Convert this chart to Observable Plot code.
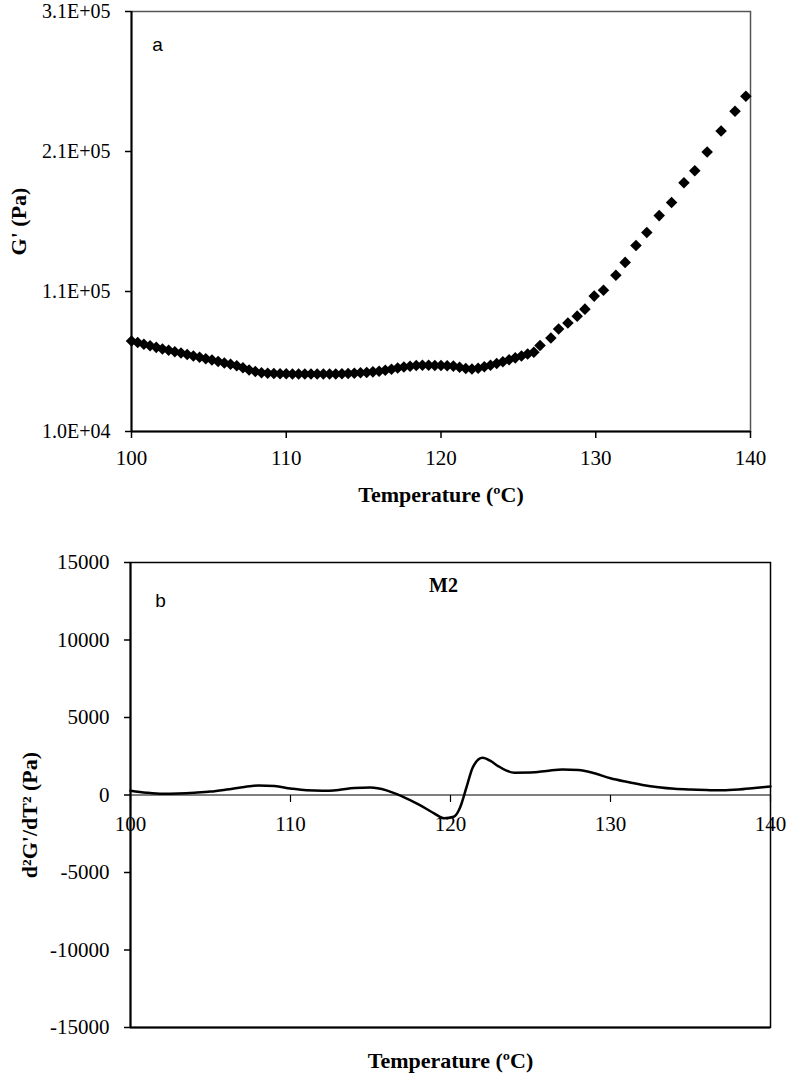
<!DOCTYPE html>
<html>
<head>
<meta charset="utf-8">
<script src="https://cdn.jsdelivr.net/npm/d3@7"></script>
<script src="https://cdn.jsdelivr.net/npm/@observablehq/plot@0.6"></script>
<style>
  html, body { margin: 0; padding: 0; background: #fff; }
  #chart svg { display: block; }
  #chart svg g[aria-label$="tick label"] text { font-family: "Liberation Serif", "Times New Roman", serif !important; }
</style>
</head>
<body>
<div id="chart"></div>
<script>
// ---------- Panel a : G' vs temperature ----------
const tempA = [
  100.0,100.4,100.8,101.2,101.6,102.0,102.4,102.8,103.2,103.6,
  104.0,104.4,104.8,105.2,105.6,106.0,106.4,106.8,107.2,107.6,
  108.0,108.4,108.8,109.2,109.6,110.0,110.4,110.8,111.2,111.6,
  112.0,112.4,112.8,113.2,113.6,114.0,114.4,114.8,115.2,115.6,
  116.0,116.4,116.8,117.2,117.6,118.0,118.4,118.8,119.2,119.6,
  120.0,120.4,120.8,121.2,121.6,122.0,122.4,122.8,123.2,123.6,
  124.0,124.4,124.8,125.2,125.6,126.0,
  126.4,127.1,127.6,128.2,128.8,129.3,129.9,130.5,131.3,131.9,
  132.6,133.3,134.1,134.9,135.7,136.4,137.2,138.1,139.0,139.7
];
const gPrime = [
  74700,73500,72300,71200,70100,69000,68000,67000,66000,65000,
  64000,63000,62000,61000,60000,59000,58000,56900,55500,54000,
  52800,52000,51600,51400,51200,51200,51100,51100,51000,51000,
  51000,51000,51100,51100,51200,51400,51600,51900,52200,52600,
  53100,53800,54500,55300,56000,56600,57100,57300,57300,57200,
  57100,57000,56700,55900,55000,54700,55200,56200,57300,58500,
  59800,61200,62600,64000,65400,66600,
  71500,76800,83200,87500,92400,97400,106700,110900,121600,130800,
  142900,152100,164200,173500,187700,196200,209700,224600,238800,249500
];
const yTicksA = [10000, 110000, 210000, 310000];
const xTicks = [100, 110, 120, 130, 140];

// ---------- Panel b : second derivative ----------
const tempB = [
  100,101,102,103,104,105,106,107,108,109,
  110,111,112,113,114,115,116,117,118,119,
  119.6,120.2,120.6,121,121.4,122,122.5,123,123.5,124,125,
  126,127,128,129,130,131,132,133,134,135,
  136,137,138,139,140
];
const d2G = [
  280,150,80,100,150,220,350,500,620,580,
  420,300,270,330,450,480,300,-100,-600,-1200,
  -1500,-1400,-800,500,1800,2400,2200,1850,1570,1440,1450,
  1550,1650,1620,1400,1080,850,650,500,400,350,
  320,300,350,450,550
];
const yTicksB = [-15000, -10000, -5000, 0, 5000, 10000, 15000];

const dataA = tempA.map((t, i) => ({t, g: gPrime[i]}));
const dataB = tempB.map((t, i) => ({t, v: d2G[i]}));

const fmtE = d => {
  const [m, e] = d.toExponential(1).split("e");
  const sign = e[0] === "-" ? "-" : "+";
  return m + "E" + sign + String(Math.abs(+e)).padStart(2, "0");
};

const serif = "Liberation Serif";
const sans = "Liberation Sans";

const tickDown = { draw(ctx, size) { ctx.moveTo(0, 0); ctx.lineTo(0, 7); } };

const lbl = {lineAnchor: "middle", textAnchor: "middle", fontFamily: serif};

const plotA = Plot.plot({
  width: 787, height: 520,
  marginLeft: 131, marginRight: 37, marginTop: 11, marginBottom: 89,
  style: {fontSize: "20px", color: "#000", background: "#fff"},
  x: {domain: [100, 140]},
  y: {domain: [10000, 310000]},
  marks: [
    Plot.frame({stroke: "#555", strokeWidth: 1.5}),
    Plot.axisX({ticks: xTicks, tickSize: 7, tickPadding: 12, label: null, fontSize: 21, fontFamily: serif, strokeWidth: 1.5}),
    Plot.axisY({ticks: yTicksA, tickFormat: fmtE, tickSize: 6, tickPadding: 15, label: null, fontSize: 20, fontFamily: serif, strokeWidth: 1.5}),
    Plot.ruleX([100], {stroke: "#000", strokeWidth: 2}),
    Plot.ruleY([10000], {stroke: "#000", strokeWidth: 2}),
    Plot.dot(dataA, {x: "t", y: "g", symbol: "diamond2", r: 5.2, fill: "#000", stroke: "none"}),
    Plot.text(["a"], {...lbl, text: d => d, frameAnchor: "top-left", dx: 26, dy: 33, fontFamily: sans, fontSize: 19}),
    Plot.text(["Temperature (ºC)"], {...lbl, text: d => d, frameAnchor: "bottom", dy: 63, fontWeight: "bold", fontSize: 22}),
    Plot.text(["G' (Pa)"], {...lbl, text: d => d, frameAnchor: "left", dx: -113, rotate: -90, fontWeight: "bold", fontSize: 22})
  ]
});

const plotB = Plot.plot({
  width: 787, height: 553,
  marginLeft: 130, marginRight: 17, marginTop: 42, marginBottom: 46,
  style: {fontSize: "21px", color: "#000", background: "#fff"},
  x: {domain: [100, 140]},
  y: {domain: [-15000, 15000]},
  marks: [
    Plot.frame({stroke: "#000", strokeWidth: 1.5}),
    Plot.axisY({ticks: yTicksB, tickFormat: d => String(d), tickSize: 6, tickPadding: 15, label: null, fontSize: 21, fontFamily: serif, strokeWidth: 1.5}),
    Plot.axisX({ticks: [], label: null}),
    Plot.ruleX([100], {stroke: "#000", strokeWidth: 2}),
    Plot.ruleY([-15000], {stroke: "#000", strokeWidth: 2.2}),
    Plot.ruleY([0], {stroke: "#000", strokeWidth: 1.2}),
    Plot.dot(xTicks, {x: d => d, y: 0, symbol: tickDown, r: 3, stroke: "#000", strokeWidth: 1.2, fill: "none"}),
    Plot.text(xTicks, {...lbl, x: d => d, y: 0, text: d => String(d), dy: 29, fontSize: 21}),
    Plot.line(dataB, {x: "t", y: "v", curve: "monotone-x", stroke: "#000", strokeWidth: 2.5}),
    Plot.text(["b"], {...lbl, text: d => d, frameAnchor: "top-left", dx: 30, dy: 38, fontFamily: sans, fontSize: 19}),
    Plot.text(["M2"], {...lbl, text: d => d, frameAnchor: "top-left", dx: 313, dy: 23, fontWeight: "bold", fontSize: 20}),
    Plot.text(["Temperature (ºC)"], {...lbl, text: d => d, frameAnchor: "bottom", dy: 33, fontWeight: "bold", fontSize: 22}),
    Plot.text(["d²G'/dT² (Pa)"], {...lbl, text: d => d, frameAnchor: "left", dx: -101, dy: 20, rotate: -90, fontWeight: "bold", fontSize: 22})
  ]
});

document.getElementById("chart").append(plotA, plotB);
</script>
</body>
</html>
